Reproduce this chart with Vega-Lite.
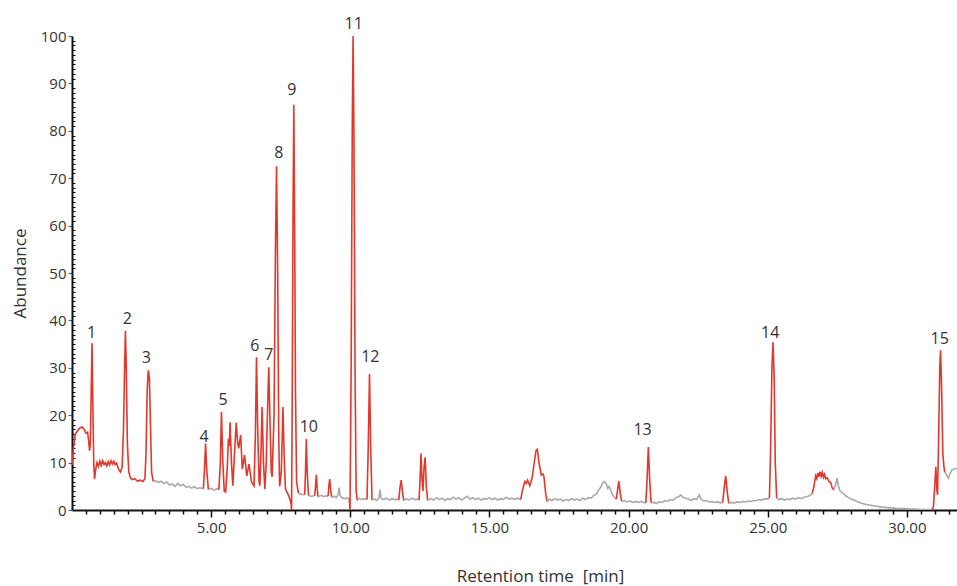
{
  "$schema": "https://vega.github.io/schema/vega-lite/v6.json",
  "description": "Chromatogram with numbered peaks.",
  "autosize": {"type": "none"},
  "width": 885,
  "height": 474,
  "padding": {"left": 72, "top": 36, "right": 0, "bottom": 76},
  "config": {
    "view": {"stroke": null},
    "font": "Open Sans",
    "axis": {"grid": false, "labelColor": "#333", "titleColor": "#333", "tickColor": "#111", "domainColor": "#111"}
  },
  "datasets": {
    "trace": [
      {"t":0,"v":9.5,"s":"r1","k":"peak"},{"t":0.05,"v":13,"s":"r1","k":"peak"},{"t":0.12,"v":16,"s":"r1","k":"peak"},{"t":0.2,"v":16.7,"s":"r1","k":"peak"},{"t":0.28,"v":17.3,"s":"r1","k":"peak"},{"t":0.36,"v":17.5,"s":"r1","k":"peak"},{"t":0.44,"v":17,"s":"r1","k":"peak"},{"t":0.5,"v":16.2,"s":"r1","k":"peak"},{"t":0.56,"v":16.4,"s":"r1","k":"peak"},{"t":0.6,"v":14.5,"s":"r1","k":"peak"},{"t":0.63,"v":12.5,"s":"r1","k":"peak"},{"t":0.66,"v":14,"s":"r1","k":"peak"},{"t":0.69,"v":25,"s":"r1","k":"peak"},{"t":0.72,"v":35.2,"s":"r1","k":"peak"},{"t":0.75,"v":22,"s":"r1","k":"peak"},{"t":0.78,"v":10,"s":"r1","k":"peak"},{"t":0.81,"v":6.5,"s":"r1","k":"peak"},{"t":0.85,"v":8.5,"s":"r1","k":"peak"},{"t":0.9,"v":10,"s":"r1","k":"peak"},{"t":0.95,"v":9.2,"s":"r1","k":"peak"},{"t":1.0,"v":10.3,"s":"r1","k":"peak"},{"t":1.05,"v":9.4,"s":"r1","k":"peak"},{"t":1.1,"v":10.4,"s":"r1","k":"peak"},{"t":1.15,"v":9.6,"s":"r1","k":"peak"},{"t":1.2,"v":10,"s":"r1","k":"peak"},{"t":1.25,"v":9.3,"s":"r1","k":"peak"},{"t":1.3,"v":10.2,"s":"r1","k":"peak"},{"t":1.35,"v":9.5,"s":"r1","k":"peak"},{"t":1.4,"v":10.4,"s":"r1","k":"peak"},{"t":1.45,"v":9.7,"s":"r1","k":"peak"},{"t":1.5,"v":10.3,"s":"r1","k":"peak"},{"t":1.55,"v":9.6,"s":"r1","k":"peak"},{"t":1.6,"v":9.9,"s":"r1","k":"peak"},{"t":1.68,"v":8.5,"s":"r1","k":"peak"},{"t":1.74,"v":8,"s":"r1","k":"peak"},{"t":1.8,"v":9,"s":"r1","k":"peak"},{"t":1.85,"v":17,"s":"r1","k":"peak"},{"t":1.89,"v":30,"s":"r1","k":"peak"},{"t":1.92,"v":37.8,"s":"r1","k":"peak"},{"t":1.95,"v":30,"s":"r1","k":"peak"},{"t":1.99,"v":14,"s":"r1","k":"peak"},{"t":2.04,"v":8,"s":"r1","k":"peak"},{"t":2.1,"v":6.8,"s":"r1","k":"peak"},{"t":2.16,"v":6.4,"s":"r1","k":"peak"},{"t":2.25,"v":6.6,"s":"r1","k":"peak"},{"t":2.35,"v":6.1,"s":"r1","k":"peak"},{"t":2.45,"v":6.3,"s":"r1","k":"peak"},{"t":2.55,"v":6,"s":"r1","k":"peak"},{"t":2.62,"v":6.6,"s":"r1","k":"peak"},{"t":2.66,"v":12,"s":"r1","k":"peak"},{"t":2.7,"v":25,"s":"r1","k":"peak"},{"t":2.74,"v":29.5,"s":"r1","k":"peak"},{"t":2.78,"v":28,"s":"r1","k":"peak"},{"t":2.82,"v":18,"s":"r1","k":"peak"},{"t":2.86,"v":8,"s":"r1","k":"peak"},{"t":2.92,"v":6,"s":"r1","k":"peak"},
      {"t":2.92,"v":6,"s":"g1","k":"base"},{"t":3.0,"v":6.2,"s":"g1","k":"base"},{"t":3.1,"v":5.8,"s":"g1","k":"base"},{"t":3.2,"v":6.1,"s":"g1","k":"base"},{"t":3.3,"v":5.6,"s":"g1","k":"base"},{"t":3.4,"v":5.9,"s":"g1","k":"base"},{"t":3.5,"v":5.3,"s":"g1","k":"base"},{"t":3.6,"v":5.5,"s":"g1","k":"base"},{"t":3.7,"v":5.0,"s":"g1","k":"base"},{"t":3.8,"v":5.6,"s":"g1","k":"base"},{"t":3.9,"v":5.1,"s":"g1","k":"base"},{"t":4.0,"v":5.4,"s":"g1","k":"base"},{"t":4.1,"v":4.8,"s":"g1","k":"base"},{"t":4.2,"v":5.0,"s":"g1","k":"base"},{"t":4.3,"v":4.6,"s":"g1","k":"base"},{"t":4.4,"v":4.9,"s":"g1","k":"base"},{"t":4.5,"v":4.5,"s":"g1","k":"base"},{"t":4.6,"v":4.7,"s":"g1","k":"base"},{"t":4.72,"v":4.5,"s":"g1","k":"base"},
      {"t":4.72,"v":4.5,"s":"r2","k":"peak"},{"t":4.76,"v":8.5,"s":"r2","k":"peak"},{"t":4.8,"v":14,"s":"r2","k":"peak"},{"t":4.84,"v":8.5,"s":"r2","k":"peak"},{"t":4.9,"v":4.3,"s":"r2","k":"peak"},
      {"t":4.9,"v":4.3,"s":"g2","k":"base"},{"t":5.0,"v":4.6,"s":"g2","k":"base"},{"t":5.1,"v":4.2,"s":"g2","k":"base"},{"t":5.2,"v":4.5,"s":"g2","k":"base"},{"t":5.28,"v":4.3,"s":"g2","k":"base"},
      {"t":5.28,"v":4.3,"s":"r3","k":"peak"},{"t":5.33,"v":10,"s":"r3","k":"peak"},{"t":5.37,"v":20.7,"s":"r3","k":"peak"},{"t":5.42,"v":10,"s":"r3","k":"peak"},{"t":5.47,"v":4,"s":"r3","k":"peak"},{"t":5.52,"v":3.8,"s":"r3","k":"peak"},{"t":5.58,"v":9,"s":"r3","k":"peak"},{"t":5.62,"v":15,"s":"r3","k":"peak"},{"t":5.65,"v":13.5,"s":"r3","k":"peak"},{"t":5.68,"v":18.5,"s":"r3","k":"peak"},{"t":5.73,"v":10,"s":"r3","k":"peak"},{"t":5.78,"v":5.1,"s":"r3","k":"peak"},{"t":5.84,"v":12,"s":"r3","k":"peak"},{"t":5.9,"v":18.4,"s":"r3","k":"peak"},{"t":5.95,"v":14.3,"s":"r3","k":"peak"},{"t":5.99,"v":13,"s":"r3","k":"peak"},{"t":6.06,"v":15.8,"s":"r3","k":"peak"},{"t":6.12,"v":8.6,"s":"r3","k":"peak"},{"t":6.2,"v":11.6,"s":"r3","k":"peak"},{"t":6.28,"v":7.2,"s":"r3","k":"peak"},{"t":6.36,"v":9.7,"s":"r3","k":"peak"},{"t":6.45,"v":5.9,"s":"r3","k":"peak"},{"t":6.54,"v":5.1,"s":"r3","k":"peak"},{"t":6.59,"v":16,"s":"r3","k":"peak"},{"t":6.63,"v":32.2,"s":"r3","k":"peak"},{"t":6.67,"v":18,"s":"r3","k":"peak"},{"t":6.72,"v":6,"s":"r3","k":"peak"},{"t":6.75,"v":5.1,"s":"r3","k":"peak"},{"t":6.79,"v":12,"s":"r3","k":"peak"},{"t":6.83,"v":21.7,"s":"r3","k":"peak"},{"t":6.88,"v":10,"s":"r3","k":"peak"},{"t":6.93,"v":4.4,"s":"r3","k":"peak"},{"t":6.98,"v":10,"s":"r3","k":"peak"},{"t":7.03,"v":22,"s":"r3","k":"peak"},{"t":7.07,"v":30.1,"s":"r3","k":"peak"},{"t":7.11,"v":20,"s":"r3","k":"peak"},{"t":7.16,"v":8,"s":"r3","k":"peak"},{"t":7.19,"v":7,"s":"r3","k":"peak"},{"t":7.26,"v":20,"s":"r3","k":"peak"},{"t":7.31,"v":55,"s":"r3","k":"peak"},{"t":7.35,"v":72.5,"s":"r3","k":"peak"},{"t":7.39,"v":50,"s":"r3","k":"peak"},{"t":7.43,"v":15,"s":"r3","k":"peak"},{"t":7.46,"v":5,"s":"r3","k":"peak"},{"t":7.52,"v":8,"s":"r3","k":"peak"},{"t":7.58,"v":21.7,"s":"r3","k":"peak"},{"t":7.63,"v":10,"s":"r3","k":"peak"},{"t":7.67,"v":4.4,"s":"r3","k":"peak"},{"t":7.79,"v":3,"s":"r3","k":"peak"},{"t":7.87,"v":1.5,"s":"r3","k":"peak"},{"t":7.89,"v":0,"s":"r3","k":"peak"},{"t":7.91,"v":20,"s":"r3","k":"peak"},{"t":7.94,"v":60,"s":"r3","k":"peak"},{"t":7.97,"v":85.5,"s":"r3","k":"peak"},{"t":8.0,"v":60,"s":"r3","k":"peak"},{"t":8.03,"v":25,"s":"r3","k":"peak"},{"t":8.07,"v":6,"s":"r3","k":"peak"},{"t":8.12,"v":4,"s":"r3","k":"peak"},{"t":8.15,"v":3.5,"s":"r3","k":"peak"},
      {"t":8.15,"v":3.5,"s":"g3","k":"base"},{"t":8.25,"v":3.3,"s":"g3","k":"base"},{"t":8.36,"v":3.2,"s":"g3","k":"base"},
      {"t":8.36,"v":3.2,"s":"r4","k":"peak"},{"t":8.39,"v":8,"s":"r4","k":"peak"},{"t":8.42,"v":15,"s":"r4","k":"peak"},{"t":8.45,"v":8,"s":"r4","k":"peak"},{"t":8.5,"v":3,"s":"r4","k":"peak"},
      {"t":8.5,"v":3,"s":"g4","k":"base"},{"t":8.6,"v":2.9,"s":"g4","k":"base"},{"t":8.72,"v":3,"s":"g4","k":"base"},
      {"t":8.72,"v":3,"s":"r5","k":"peak"},{"t":8.75,"v":5,"s":"r5","k":"peak"},{"t":8.78,"v":7.4,"s":"r5","k":"peak"},{"t":8.81,"v":4.5,"s":"r5","k":"peak"},{"t":8.84,"v":2.8,"s":"r5","k":"peak"},
      {"t":8.84,"v":2.8,"s":"g5","k":"base"},{"t":8.95,"v":3.1,"s":"g5","k":"base"},{"t":9.05,"v":2.8,"s":"g5","k":"base"},{"t":9.12,"v":3,"s":"g5","k":"base"},{"t":9.2,"v":2.9,"s":"g5","k":"base"},
      {"t":9.2,"v":2.9,"s":"r6","k":"peak"},{"t":9.23,"v":5,"s":"r6","k":"peak"},{"t":9.26,"v":6.5,"s":"r6","k":"peak"},{"t":9.29,"v":4.5,"s":"r6","k":"peak"},{"t":9.33,"v":2.7,"s":"r6","k":"peak"},
      {"t":9.33,"v":2.7,"s":"g6","k":"base"},{"t":9.42,"v":2.9,"s":"g6","k":"base"},{"t":9.5,"v":2.6,"s":"g6","k":"base"},{"t":9.56,"v":3.2,"s":"g6","k":"base"},{"t":9.6,"v":4.7,"s":"g6","k":"base"},{"t":9.64,"v":3.0,"s":"g6","k":"base"},{"t":9.72,"v":2.5,"s":"g6","k":"base"},{"t":9.82,"v":2.4,"s":"g6","k":"base"},{"t":9.9,"v":2.6,"s":"g6","k":"base"},{"t":9.96,"v":2.3,"s":"g6","k":"base"},
      {"t":9.96,"v":2.3,"s":"r7","k":"peak"},{"t":9.99,"v":0,"s":"r7","k":"peak"},{"t":10.03,"v":30,"s":"r7","k":"peak"},{"t":10.07,"v":80,"s":"r7","k":"peak"},{"t":10.1,"v":100,"s":"r7","k":"peak"},{"t":10.13,"v":80,"s":"r7","k":"peak"},{"t":10.17,"v":30,"s":"r7","k":"peak"},{"t":10.21,"v":4,"s":"r7","k":"peak"},{"t":10.25,"v":2,"s":"r7","k":"peak"},
      {"t":10.25,"v":2,"s":"g7","k":"base"},{"t":10.33,"v":2.5,"s":"g7","k":"base"},{"t":10.42,"v":2.2,"s":"g7","k":"base"},{"t":10.5,"v":2.4,"s":"g7","k":"base"},{"t":10.6,"v":2.2,"s":"g7","k":"base"},
      {"t":10.6,"v":2.2,"s":"r8","k":"peak"},{"t":10.64,"v":12,"s":"r8","k":"peak"},{"t":10.69,"v":28.7,"s":"r8","k":"peak"},{"t":10.73,"v":14,"s":"r8","k":"peak"},{"t":10.78,"v":2.1,"s":"r8","k":"peak"},
      {"t":10.78,"v":2.1,"s":"g8","k":"base"},{"t":10.88,"v":2.3,"s":"g8","k":"base"},{"t":10.95,"v":2.0,"s":"g8","k":"base"},{"t":11.03,"v":2.5,"s":"g8","k":"base"},{"t":11.07,"v":4.3,"s":"g8","k":"base"},{"t":11.11,"v":2.4,"s":"g8","k":"base"},{"t":11.2,"v":2.2,"s":"g8","k":"base"},{"t":11.3,"v":2.5,"s":"g8","k":"base"},{"t":11.4,"v":2.1,"s":"g8","k":"base"},{"t":11.5,"v":2.4,"s":"g8","k":"base"},{"t":11.6,"v":2.2,"s":"g8","k":"base"},{"t":11.7,"v":2.3,"s":"g8","k":"base"},{"t":11.74,"v":2.1,"s":"g8","k":"base"},
      {"t":11.74,"v":2.1,"s":"r9","k":"peak"},{"t":11.79,"v":5,"s":"r9","k":"peak"},{"t":11.83,"v":6.3,"s":"r9","k":"peak"},{"t":11.87,"v":4,"s":"r9","k":"peak"},{"t":11.92,"v":2,"s":"r9","k":"peak"},
      {"t":11.92,"v":2,"s":"g9","k":"base"},{"t":12.0,"v":2.4,"s":"g9","k":"base"},{"t":12.1,"v":2.1,"s":"g9","k":"base"},{"t":12.2,"v":2.5,"s":"g9","k":"base"},{"t":12.3,"v":2.2,"s":"g9","k":"base"},{"t":12.4,"v":2.3,"s":"g9","k":"base"},{"t":12.47,"v":2.1,"s":"g9","k":"base"},
      {"t":12.47,"v":2.1,"s":"r10","k":"peak"},{"t":12.51,"v":7,"s":"r10","k":"peak"},{"t":12.54,"v":11.9,"s":"r10","k":"peak"},{"t":12.58,"v":6,"s":"r10","k":"peak"},{"t":12.61,"v":4,"s":"r10","k":"peak"},{"t":12.65,"v":9,"s":"r10","k":"peak"},{"t":12.69,"v":11.1,"s":"r10","k":"peak"},{"t":12.73,"v":5,"s":"r10","k":"peak"},{"t":12.78,"v":2,"s":"r10","k":"peak"},
      {"t":12.78,"v":2,"s":"g10","k":"base"},{"t":12.9,"v":2.4,"s":"g10","k":"base"},{"t":13.0,"v":2.1,"s":"g10","k":"base"},{"t":13.1,"v":2.6,"s":"g10","k":"base"},{"t":13.2,"v":2.2,"s":"g10","k":"base"},{"t":13.3,"v":2.5,"s":"g10","k":"base"},{"t":13.4,"v":2.0,"s":"g10","k":"base"},{"t":13.5,"v":2.4,"s":"g10","k":"base"},{"t":13.6,"v":2.2,"s":"g10","k":"base"},{"t":13.7,"v":2.7,"s":"g10","k":"base"},{"t":13.8,"v":2.3,"s":"g10","k":"base"},{"t":13.9,"v":2.6,"s":"g10","k":"base"},{"t":14.0,"v":2.1,"s":"g10","k":"base"},{"t":14.1,"v":2.5,"s":"g10","k":"base"},{"t":14.2,"v":2.9,"s":"g10","k":"base"},{"t":14.3,"v":2.3,"s":"g10","k":"base"},{"t":14.4,"v":2.6,"s":"g10","k":"base"},{"t":14.5,"v":2.2,"s":"g10","k":"base"},{"t":14.6,"v":2.5,"s":"g10","k":"base"},{"t":14.7,"v":2.1,"s":"g10","k":"base"},{"t":14.8,"v":2.4,"s":"g10","k":"base"},{"t":14.9,"v":2.3,"s":"g10","k":"base"},{"t":15.0,"v":2.6,"s":"g10","k":"base"},{"t":15.1,"v":2.2,"s":"g10","k":"base"},{"t":15.2,"v":2.5,"s":"g10","k":"base"},{"t":15.3,"v":2.1,"s":"g10","k":"base"},{"t":15.4,"v":2.4,"s":"g10","k":"base"},{"t":15.5,"v":2.2,"s":"g10","k":"base"},{"t":15.6,"v":2.7,"s":"g10","k":"base"},{"t":15.7,"v":2.3,"s":"g10","k":"base"},{"t":15.8,"v":2.5,"s":"g10","k":"base"},{"t":15.9,"v":2.2,"s":"g10","k":"base"},{"t":16.0,"v":2.5,"s":"g10","k":"base"},{"t":16.12,"v":2.2,"s":"g10","k":"base"},
      {"t":16.12,"v":2.2,"s":"r11","k":"peak"},{"t":16.2,"v":4.5,"s":"r11","k":"peak"},{"t":16.27,"v":6,"s":"r11","k":"peak"},{"t":16.32,"v":5.6,"s":"r11","k":"peak"},{"t":16.37,"v":6.3,"s":"r11","k":"peak"},{"t":16.45,"v":5.1,"s":"r11","k":"peak"},{"t":16.53,"v":6.7,"s":"r11","k":"peak"},{"t":16.6,"v":9.5,"s":"r11","k":"peak"},{"t":16.67,"v":12.5,"s":"r11","k":"peak"},{"t":16.72,"v":12.8,"s":"r11","k":"peak"},{"t":16.78,"v":10,"s":"r11","k":"peak"},{"t":16.86,"v":7.4,"s":"r11","k":"peak"},{"t":16.92,"v":7.6,"s":"r11","k":"peak"},{"t":16.96,"v":7,"s":"r11","k":"peak"},{"t":17.02,"v":3.5,"s":"r11","k":"peak"},{"t":17.07,"v":1.8,"s":"r11","k":"peak"},
      {"t":17.07,"v":1.8,"s":"g11","k":"base"},{"t":17.15,"v":2.3,"s":"g11","k":"base"},{"t":17.25,"v":2.0,"s":"g11","k":"base"},{"t":17.35,"v":2.4,"s":"g11","k":"base"},{"t":17.45,"v":2.1,"s":"g11","k":"base"},{"t":17.55,"v":2.3,"s":"g11","k":"base"},{"t":17.65,"v":1.9,"s":"g11","k":"base"},{"t":17.75,"v":2.2,"s":"g11","k":"base"},{"t":17.85,"v":2.0,"s":"g11","k":"base"},{"t":17.95,"v":2.4,"s":"g11","k":"base"},{"t":18.05,"v":2.1,"s":"g11","k":"base"},{"t":18.15,"v":2.3,"s":"g11","k":"base"},{"t":18.25,"v":2.0,"s":"g11","k":"base"},{"t":18.35,"v":2.5,"s":"g11","k":"base"},{"t":18.45,"v":2.2,"s":"g11","k":"base"},{"t":18.55,"v":2.6,"s":"g11","k":"base"},{"t":18.65,"v":2.5,"s":"g11","k":"base"},{"t":18.75,"v":3.1,"s":"g11","k":"base"},{"t":18.85,"v":3.4,"s":"g11","k":"base"},{"t":18.92,"v":4.2,"s":"g11","k":"base"},{"t":19.0,"v":4.8,"s":"g11","k":"base"},{"t":19.07,"v":5.7,"s":"g11","k":"base"},{"t":19.13,"v":6,"s":"g11","k":"base"},{"t":19.2,"v":5.5,"s":"g11","k":"base"},{"t":19.25,"v":4.6,"s":"g11","k":"base"},{"t":19.3,"v":5.0,"s":"g11","k":"base"},{"t":19.38,"v":3.8,"s":"g11","k":"base"},{"t":19.45,"v":3.0,"s":"g11","k":"base"},{"t":19.52,"v":2.5,"s":"g11","k":"base"},{"t":19.56,"v":2.3,"s":"g11","k":"base"},
      {"t":19.56,"v":2.3,"s":"r12","k":"peak"},{"t":19.61,"v":4.5,"s":"r12","k":"peak"},{"t":19.65,"v":6.1,"s":"r12","k":"peak"},{"t":19.7,"v":3.5,"s":"r12","k":"peak"},{"t":19.75,"v":1.8,"s":"r12","k":"peak"},
      {"t":19.75,"v":1.8,"s":"g12","k":"base"},{"t":19.85,"v":2.0,"s":"g12","k":"base"},{"t":19.95,"v":1.7,"s":"g12","k":"base"},{"t":20.05,"v":1.9,"s":"g12","k":"base"},{"t":20.15,"v":1.6,"s":"g12","k":"base"},{"t":20.25,"v":1.8,"s":"g12","k":"base"},{"t":20.35,"v":1.6,"s":"g12","k":"base"},{"t":20.45,"v":1.8,"s":"g12","k":"base"},{"t":20.55,"v":1.6,"s":"g12","k":"base"},{"t":20.62,"v":1.5,"s":"g12","k":"base"},
      {"t":20.62,"v":1.5,"s":"r13","k":"peak"},{"t":20.66,"v":6,"s":"r13","k":"peak"},{"t":20.71,"v":13.3,"s":"r13","k":"peak"},{"t":20.76,"v":6,"s":"r13","k":"peak"},{"t":20.81,"v":1.5,"s":"r13","k":"peak"},
      {"t":20.81,"v":1.5,"s":"g13","k":"base"},{"t":20.9,"v":1.6,"s":"g13","k":"base"},{"t":21.0,"v":1.4,"s":"g13","k":"base"},{"t":21.1,"v":1.7,"s":"g13","k":"base"},{"t":21.2,"v":1.6,"s":"g13","k":"base"},{"t":21.3,"v":2.0,"s":"g13","k":"base"},{"t":21.4,"v":1.8,"s":"g13","k":"base"},{"t":21.5,"v":2.2,"s":"g13","k":"base"},{"t":21.6,"v":2.1,"s":"g13","k":"base"},{"t":21.7,"v":2.6,"s":"g13","k":"base"},{"t":21.8,"v":2.8,"s":"g13","k":"base"},{"t":21.88,"v":3.2,"s":"g13","k":"base"},{"t":21.95,"v":2.7,"s":"g13","k":"base"},{"t":22.05,"v":2.5,"s":"g13","k":"base"},{"t":22.15,"v":2.3,"s":"g13","k":"base"},{"t":22.25,"v":2.0,"s":"g13","k":"base"},{"t":22.35,"v":2.4,"s":"g13","k":"base"},{"t":22.45,"v":2.2,"s":"g13","k":"base"},{"t":22.54,"v":3.2,"s":"g13","k":"base"},{"t":22.6,"v":2.3,"s":"g13","k":"base"},{"t":22.7,"v":1.9,"s":"g13","k":"base"},{"t":22.8,"v":2.0,"s":"g13","k":"base"},{"t":22.9,"v":1.7,"s":"g13","k":"base"},{"t":23.0,"v":1.8,"s":"g13","k":"base"},{"t":23.1,"v":1.6,"s":"g13","k":"base"},{"t":23.2,"v":1.7,"s":"g13","k":"base"},{"t":23.3,"v":1.5,"s":"g13","k":"base"},{"t":23.38,"v":1.6,"s":"g13","k":"base"},
      {"t":23.38,"v":1.6,"s":"r14","k":"peak"},{"t":23.44,"v":5,"s":"r14","k":"peak"},{"t":23.49,"v":7.2,"s":"r14","k":"peak"},{"t":23.54,"v":4,"s":"r14","k":"peak"},{"t":23.6,"v":1.4,"s":"r14","k":"peak"},
      {"t":23.6,"v":1.4,"s":"g14","k":"base"},{"t":23.7,"v":1.6,"s":"g14","k":"base"},{"t":23.8,"v":1.5,"s":"g14","k":"base"},{"t":23.9,"v":1.7,"s":"g14","k":"base"},{"t":24.0,"v":1.6,"s":"g14","k":"base"},{"t":24.1,"v":1.8,"s":"g14","k":"base"},{"t":24.2,"v":1.7,"s":"g14","k":"base"},{"t":24.3,"v":1.9,"s":"g14","k":"base"},{"t":24.4,"v":1.8,"s":"g14","k":"base"},{"t":24.5,"v":2.0,"s":"g14","k":"base"},{"t":24.6,"v":2.0,"s":"g14","k":"base"},{"t":24.7,"v":2.2,"s":"g14","k":"base"},{"t":24.8,"v":2.1,"s":"g14","k":"base"},{"t":24.9,"v":2.4,"s":"g14","k":"base"},{"t":25.0,"v":2.3,"s":"g14","k":"base"},{"t":25.06,"v":2.6,"s":"g14","k":"base"},
      {"t":25.06,"v":2.6,"s":"r15","k":"peak"},{"t":25.1,"v":12,"s":"r15","k":"peak"},{"t":25.15,"v":30,"s":"r15","k":"peak"},{"t":25.19,"v":35.4,"s":"r15","k":"peak"},{"t":25.23,"v":28,"s":"r15","k":"peak"},{"t":25.27,"v":10,"s":"r15","k":"peak"},{"t":25.32,"v":2.5,"s":"r15","k":"peak"},
      {"t":25.32,"v":2.5,"s":"g15","k":"base"},{"t":25.4,"v":2.2,"s":"g15","k":"base"},{"t":25.5,"v":2.4,"s":"g15","k":"base"},{"t":25.6,"v":2.1,"s":"g15","k":"base"},{"t":25.7,"v":2.3,"s":"g15","k":"base"},{"t":25.8,"v":2.2,"s":"g15","k":"base"},{"t":25.9,"v":2.5,"s":"g15","k":"base"},{"t":26.0,"v":2.3,"s":"g15","k":"base"},{"t":26.1,"v":2.6,"s":"g15","k":"base"},{"t":26.2,"v":2.4,"s":"g15","k":"base"},{"t":26.3,"v":2.7,"s":"g15","k":"base"},{"t":26.4,"v":2.8,"s":"g15","k":"base"},{"t":26.5,"v":3.0,"s":"g15","k":"base"},{"t":26.6,"v":3.5,"s":"g15","k":"base"},
      {"t":26.6,"v":3.5,"s":"r16","k":"peak"},{"t":26.66,"v":5,"s":"r16","k":"peak"},{"t":26.72,"v":7.2,"s":"r16","k":"peak"},{"t":26.76,"v":6.6,"s":"r16","k":"peak"},{"t":26.8,"v":7.8,"s":"r16","k":"peak"},{"t":26.84,"v":7.0,"s":"r16","k":"peak"},{"t":26.88,"v":8.1,"s":"r16","k":"peak"},{"t":26.92,"v":7.1,"s":"r16","k":"peak"},{"t":26.96,"v":7.9,"s":"r16","k":"peak"},{"t":27.0,"v":6.9,"s":"r16","k":"peak"},{"t":27.04,"v":7.5,"s":"r16","k":"peak"},{"t":27.08,"v":6.6,"s":"r16","k":"peak"},{"t":27.14,"v":6.8,"s":"r16","k":"peak"},{"t":27.2,"v":6.0,"s":"r16","k":"peak"},{"t":27.26,"v":5.8,"s":"r16","k":"peak"},{"t":27.32,"v":4.6,"s":"r16","k":"peak"},{"t":27.38,"v":4.2,"s":"r16","k":"peak"},
      {"t":27.38,"v":4.2,"s":"g16","k":"base"},{"t":27.44,"v":5.5,"s":"g16","k":"base"},{"t":27.49,"v":6.7,"s":"g16","k":"base"},{"t":27.54,"v":5.0,"s":"g16","k":"base"},{"t":27.6,"v":4.0,"s":"g16","k":"base"},{"t":27.7,"v":3.6,"s":"g16","k":"base"},{"t":27.8,"v":3.0,"s":"g16","k":"base"},{"t":27.9,"v":2.6,"s":"g16","k":"base"},{"t":28.0,"v":2.3,"s":"g16","k":"base"},{"t":28.1,"v":2.1,"s":"g16","k":"base"},{"t":28.2,"v":1.8,"s":"g16","k":"base"},{"t":28.35,"v":1.5,"s":"g16","k":"base"},{"t":28.5,"v":1.2,"s":"g16","k":"base"},{"t":28.7,"v":1.0,"s":"g16","k":"base"},{"t":28.9,"v":0.8,"s":"g16","k":"base"},{"t":29.1,"v":0.6,"s":"g16","k":"base"},{"t":29.3,"v":0.5,"s":"g16","k":"base"},{"t":29.5,"v":0.4,"s":"g16","k":"base"},{"t":29.7,"v":0.3,"s":"g16","k":"base"},{"t":29.9,"v":0.3,"s":"g16","k":"base"},{"t":30.1,"v":0.2,"s":"g16","k":"base"},{"t":30.3,"v":0.2,"s":"g16","k":"base"},{"t":30.5,"v":0.1,"s":"g16","k":"base"},{"t":30.7,"v":0.1,"s":"g16","k":"base"},{"t":30.9,"v":0.1,"s":"g16","k":"base"},
      {"t":30.9,"v":0.1,"s":"r17","k":"peak"},{"t":30.95,"v":0.5,"s":"r17","k":"peak"},{"t":31.0,"v":5,"s":"r17","k":"peak"},{"t":31.04,"v":9.1,"s":"r17","k":"peak"},{"t":31.08,"v":4,"s":"r17","k":"peak"},{"t":31.1,"v":3.2,"s":"r17","k":"peak"},{"t":31.14,"v":15,"s":"r17","k":"peak"},{"t":31.18,"v":30,"s":"r17","k":"peak"},{"t":31.21,"v":33.7,"s":"r17","k":"peak"},{"t":31.25,"v":25,"s":"r17","k":"peak"},{"t":31.29,"v":12,"s":"r17","k":"peak"},{"t":31.33,"v":9.1,"s":"r17","k":"peak"},{"t":31.36,"v":8,"s":"r17","k":"peak"},
      {"t":31.36,"v":8,"s":"g17","k":"base"},{"t":31.42,"v":7.5,"s":"g17","k":"base"},{"t":31.49,"v":6.7,"s":"g17","k":"base"},{"t":31.56,"v":7.8,"s":"g17","k":"base"},{"t":31.62,"v":8.5,"s":"g17","k":"base"},{"t":31.8,"v":8.8,"s":"g17","k":"base"}
    ],
    "labels": [
      {"n":"1","t":0.7,"v":37.4},{"n":"2","t":1.99,"v":40.2},{"n":"3","t":2.67,"v":32},{"n":"4","t":4.75,"v":15.4},{"n":"5","t":5.43,"v":23.3},
      {"n":"6","t":6.57,"v":34.5},{"n":"7","t":7.07,"v":32.6},{"n":"8","t":7.43,"v":75.3},{"n":"9","t":7.9,"v":88.7},{"n":"10","t":8.51,"v":17.5},
      {"n":"11","t":10.12,"v":102.6},{"n":"12","t":10.72,"v":32.2},{"n":"13","t":20.5,"v":16.8},{"n":"14","t":25.09,"v":37.4},{"n":"15","t":31.18,"v":36}
    ]
  },
  "resolve": {"axis": {"x": "independent", "y": "independent"}},
  "layer": [
    {
      "data": {"name": "trace"},
      "mark": {"type": "line", "strokeWidth": 1.6, "clip": true},
      "encoding": {
        "x": {
          "field": "t", "type": "quantitative",
          "scale": {"domain": [0, 31.8], "nice": false, "zero": false},
          "axis": {
            "orient": "bottom",
            "values": [5, 10, 15, 20, 25, 30], "format": ".2f",
            "title": "Retention time\u00a0\u00a0[min]", "titleFontSize": 17, "titleFontWeight": "normal",
            "titleX": 468, "titleY": 66, "titleBaseline": "middle",
            "labelFontSize": 15, "labelPadding": 3, "tickSize": 7, "tickWidth": 1.5,
            "domainWidth": 2
          }
        },
        "y": {
          "field": "v", "type": "quantitative",
          "scale": {"domain": [0, 100], "nice": false},
          "axis": {
            "orient": "left",
            "values": [0, 10, 20, 30, 40, 50, 60, 70, 80, 90, 100],
            "title": "Abundance", "titleFontSize": 17, "titleFontWeight": "normal",
            "titleX": -52, "titleBaseline": "middle",
            "labelFontSize": 15, "labelPadding": 2, "tickSize": 4, "tickWidth": 1.2,
            "tickColor": "#3a6ea5", "domainWidth": 2
          }
        },
        "detail": {"field": "s"},
        "color": {
          "field": "k", "type": "nominal",
          "scale": {"domain": ["base", "peak"], "range": ["#a9a9a9", "#e2372b"]},
          "legend": null
        }
      }
    },
    {
      "data": {"name": "labels"},
      "mark": {"type": "text", "fontSize": 16, "color": "#333", "align": "center", "baseline": "middle"},
      "encoding": {
        "x": {
          "field": "t", "type": "quantitative",
          "axis": {
            "orient": "bottom",
            "values": [0.5, 1, 1.5, 2, 2.5, 3, 3.5, 4, 4.5, 5.5, 6, 6.5, 7, 7.5, 8, 8.5, 9, 9.5, 10.5, 11, 11.5, 12, 12.5, 13, 13.5, 14, 14.5, 15.5, 16, 16.5, 17, 17.5, 18, 18.5, 19, 19.5, 20.5, 21, 21.5, 22, 22.5, 23, 23.5, 24, 24.5, 25.5, 26, 26.5, 27, 27.5, 28, 28.5, 29, 29.5, 30.5, 31, 31.5],
            "labels": false, "domain": false, "title": null, "tickSize": 4, "tickWidth": 1.5
          }
        },
        "y": {
          "field": "v", "type": "quantitative",
          "axis": {
            "orient": "left",
            "values": [1,2,3,4,5,6,7,8,9,11,12,13,14,15,16,17,18,19,21,22,23,24,25,26,27,28,29,31,32,33,34,35,36,37,38,39,41,42,43,44,45,46,47,48,49,51,52,53,54,55,56,57,58,59,61,62,63,64,65,66,67,68,69,71,72,73,74,75,76,77,78,79,81,82,83,84,85,86,87,88,89,91,92,93,94,95,96,97,98,99],
            "labels": false, "domain": false, "title": null, "tickSize": -3, "tickWidth": 1
          }
        },
        "text": {"field": "n"}
      }
    }
  ]
}
